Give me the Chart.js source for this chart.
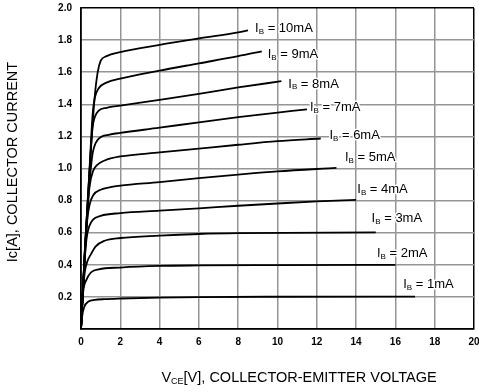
<!DOCTYPE html>
<html>
<head>
<meta charset="utf-8">
<script src="https://cdn.jsdelivr.net/npm/chart.js@4/dist/chart.umd.min.js"></script>
<style>
html,body{margin:0;padding:0;background:#fff;}
#wrap{width:479px;height:392px;position:relative;}
</style>
</head>
<body>
<div id="wrap"><canvas id="c"></canvas></div>
<script>
// ---- data (VCE [V], IC [A]) ----
const ib1 = [[0,0],[0.06,0.08],[0.16,0.136],[0.38,0.171],[0.7,0.181],[1.2,0.186],[2,0.19],[4,0.196],[6,0.199],[10,0.201],[17,0.202]];
const ib2 = [[0,0],[0.06,0.15],[0.13,0.25],[0.25,0.3],[0.5,0.352],[0.9,0.372],[2,0.383],[4,0.393],[6,0.396],[10,0.398],[16,0.4]];
const ib3 = [[0,0],[0.1,0.24],[0.2,0.36],[0.32,0.42],[0.5,0.465],[0.75,0.515],[1.2,0.55],[2,0.567],[4,0.582],[6,0.592],[8,0.597],[15,0.602]];
const ib4 = [[0,0],[0.15,0.36],[0.28,0.56],[0.42,0.64],[0.6,0.68],[1.0,0.705],[2,0.722],[4,0.737],[6,0.752],[8,0.768],[10,0.782],[12,0.795],[14,0.804]];
const ib5 = [[0,0],[0.2,0.46],[0.32,0.68],[0.45,0.78],[0.63,0.835],[1.0,0.868],[1.5,0.884],[2,0.893],[4,0.915],[6,0.94],[8,0.962],[10,0.982],[13,1.004]];
const ib6 = [[0,0],[0.2,0.48],[0.35,0.78],[0.45,0.9],[0.6,0.98],[0.8,1.02],[1.2,1.05],[2,1.075],[4,1.1],[6,1.124],[8,1.148],[10,1.17],[12.2,1.187]];
const ib7 = [[0,0],[0.2,0.48],[0.4,0.86],[0.5,1.0],[0.6,1.1],[0.75,1.16],[1.0,1.195],[1.4,1.21],[2,1.222],[4,1.254],[6,1.288],[8,1.32],[10,1.348],[11.5,1.369]];
const ib8 = [[0,0],[0.2,0.5],[0.4,0.9],[0.5,1.12],[0.58,1.25],[0.7,1.32],[0.9,1.36],[1.3,1.378],[2,1.392],[4,1.428],[6,1.465],[8,1.505],[10.2,1.544]];
const ib9 = [[0,0],[0.2,0.5],[0.4,0.92],[0.5,1.15],[0.6,1.35],[0.7,1.44],[0.9,1.5],[1.3,1.535],[2,1.56],[4,1.61],[6,1.655],[8,1.7],[9.2,1.73]];
const ib10 = [[0,0],[0.2,0.5],[0.4,0.92],[0.55,1.2],[0.7,1.45],[0.85,1.6],[1.0,1.67],[1.3,1.7],[2,1.725],[4,1.77],[6,1.81],[8,1.848],[8.5,1.86]];

const ibValues = [1,2,3,4,5,6,7,8,9,10];          // mA
const labelX = [16.4,15.06,14.79,14.06,13.43,12.64,11.65,10.55,9.5,8.86];   // label anchor VCE
const labelY = [0.275,0.469,0.686,0.869,1.067,1.206,1.38,1.525,1.71,1.87]; // label anchor IC

const xTicks = [0,2,4,6,8,10,12,14,16,18,20];
const yTicks = [0.2,0.4,0.6,0.8,1.0,1.2,1.4,1.6,1.8,2.0];

const curves = [ib1,ib2,ib3,ib4,ib5,ib6,ib7,ib8,ib9,ib10];
const FONT = '"Liberation Sans", Arial, Helvetica, sans-serif';

const datasets = curves.map((c,i)=>({
  label: 'IB = ' + ibValues[i] + 'mA',
  data: c.map(p=>({x:p[0], y:p[1]})),
  borderColor: '#000',
  borderWidth: 1.8,
  pointRadius: 0,
  fill: false,
  cubicInterpolationMode: 'monotone'
}));

function drawSubText(ctx, parts, x, y, size, halo) {
  let cx = x;
  for (const [t, sub] of parts) {
    const fs = sub ? Math.round(size*0.62) : size;
    ctx.font = fs + 'px ' + FONT;
    const dy = sub ? size*0.22 : 0;
    if (halo) ctx.strokeText(t, cx, y + dy);
    ctx.fillText(t, cx, y + dy);
    cx += ctx.measureText(t).width;
  }
  return cx - x;
}
function measureSub(ctx, parts, size) {
  let w = 0;
  for (const [t, sub] of parts) {
    const fs = sub ? Math.round(size*0.62) : size;
    ctx.font = fs + 'px ' + FONT;
    w += ctx.measureText(t).width;
  }
  return w;
}

const annot = {
  id: 'annot',
  afterDatasetsDraw(chart) {
    const ctx = chart.ctx;
    const xs = chart.scales.x, ys = chart.scales.y;
    ctx.save();
    ctx.textBaseline = 'middle';
    ctx.textAlign = 'left';
    ctx.lineJoin = 'round';
    ctx.strokeStyle = '#fff';
    ctx.lineWidth = 3;
    ctx.fillStyle = '#000';
    for (let i = 0; i < ibValues.length; i++) {
      const px = xs.getPixelForValue(labelX[i]);
      const py = ys.getPixelForValue(labelY[i]);
      drawSubText(ctx, [['I',false],['B',true],[' = ' + ibValues[i] + 'mA',false]], px, py, 13, true);
    }
    ctx.restore();
  },
  afterDraw(chart) {
    const ctx = chart.ctx;
    ctx.save();
    ctx.fillStyle = '#000';
    ctx.textBaseline = 'middle';
    ctx.textAlign = 'left';
    const parts = [['V',false],['CE',true],['[V], COLLECTOR-EMITTER VOLTAGE',false]];
    const w = measureSub(ctx, parts, 14.5);
    drawSubText(ctx, parts, 299 - w/2, 378, 14.5, false);
    // y title
    ctx.translate(13, 162);
    ctx.rotate(-Math.PI/2);
    ctx.textAlign = 'center';
    ctx.font = '14.5px ' + FONT;
    ctx.fillText('Ic[A], COLLECTOR CURRENT', 0, 0);
    ctx.restore();
  }
};

new Chart(document.getElementById('c'), {
  type: 'line',
  data: { datasets },
  options: {
    responsive: true,
    maintainAspectRatio: false,
    animation: false,
    events: [],
    layout: { padding: 0 },
    plugins: { legend: { display: false }, tooltip: { enabled: false } },
    scales: {
      x: {
        type: 'linear', min: 0, max: 20,
        afterBuildTicks: s => { s.ticks = xTicks.map(v=>({value:v})); },
        afterFit: s => { s.height = 63; s.paddingLeft = 0; s.paddingRight = 5; },
        ticks: { color: '#000', font: { family: FONT, size: 10, weight: 'bold' }, padding: 7, maxRotation: 0,
                 callback: v => String(v) },
        grid: { color: c => (c.tick && c.tick.value === 20) ? '#000' : '#959595', lineWidth: 1.5, drawTicks: false },
        border: { color: '#000', width: 1.8 }
      },
      y: {
        type: 'linear', min: 0, max: 2,
        afterBuildTicks: s => { s.ticks = [0].concat(yTicks).map(v=>({value:v})); },
        afterFit: s => { s.width = 81; s.paddingTop = 8; s.paddingBottom = 0; },
        ticks: { color: '#000', font: { family: FONT, size: 10, weight: 'bold' }, padding: 9,
                 callback: v => v === 0 ? '' : Number(v).toFixed(1) },
        grid: { color: c => (c.tick && Math.abs(c.tick.value - 2) < 1e-9) ? '#000' : '#959595', lineWidth: 1.5, drawTicks: false },
        border: { color: '#000', width: 1.8 }
      }
    }
  },
  plugins: [annot]
});
</script>
</body>
</html>
